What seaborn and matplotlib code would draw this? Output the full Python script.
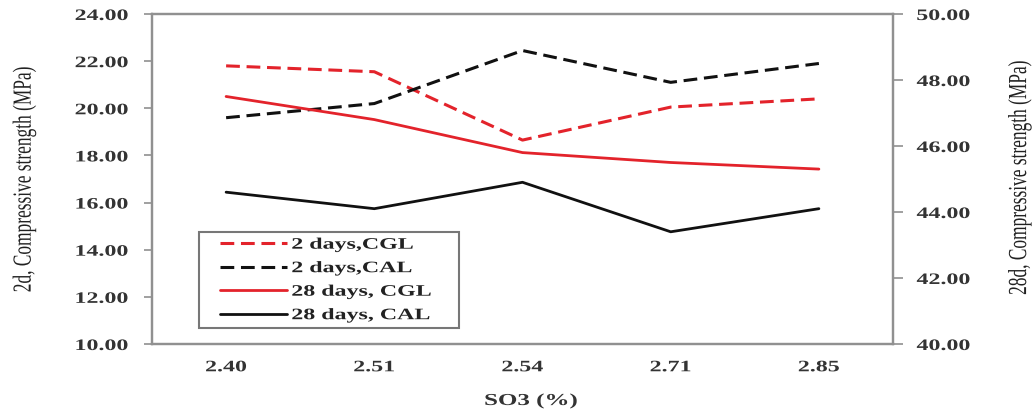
import matplotlib
matplotlib.use("Agg")
import matplotlib.pyplot as plt
from matplotlib import patheffects
from matplotlib.lines import Line2D
from matplotlib.legend_handler import HandlerLine2D
from matplotlib.transforms import Affine2D
import seaborn as sns

# SO3 content (categories on the x axis)
so3 = ["2.40", "2.51", "2.54", "2.71", "2.85"]

# 2-day strength, left axis (MPa)
cgl_2d = [21.8, 21.55, 18.65, 20.05, 20.4]
cal_2d = [19.6, 20.2, 22.45, 21.1, 21.9]

# 28-day strength, right axis (MPa)
cgl_28d = [47.5, 46.8, 45.8, 45.5, 45.3]
cal_28d = [44.6, 44.1, 44.9, 43.4, 44.1]

left_ticks = [10, 12, 14, 16, 18, 20, 22, 24]
right_ticks = [40, 42, 44, 46, 48, 50]


class Stretch(patheffects.AbstractPathEffect):
    """Widen text glyphs (the source figure was resized non-uniformly)."""

    def __init__(self, sx=1.0, sy=1.0, anchor="center"):
        super().__init__()
        self.sx, self.sy, self.anchor = sx, sy, anchor

    def draw_path(self, renderer, gc, tpath, affine, rgbFace=None):
        ext = tpath.get_extents()
        cx = {"left": ext.x0, "right": ext.x1}.get(self.anchor, (ext.x0 + ext.x1) / 2)
        cy = (ext.y0 + ext.y1) / 2
        pre = Affine2D().translate(-cx, -cy).scale(self.sx, self.sy).translate(cx, cy)
        renderer.draw_path(gc, tpath, pre + affine, rgbFace)


SX = 1.5
sns.set_style("white")
plt.rcParams["font.family"] = ["Liberation Serif", "DejaVu Serif"]

RED = "#e3232b"
BLACK = "#111111"
SPINE = "#909090"
TXT = "#333333"
dash = (0, (4.5, 2.2))

fig = plt.figure(figsize=(10.32, 4.14), dpi=100)
ax = fig.add_axes([0.1473, 0.1667, 0.7180, 0.7971])
ax2 = ax.twinx()

sns.lineplot(x=so3, y=cgl_2d, ax=ax, color=RED, linewidth=2.2, linestyle=dash, label="2 days,CGL")
sns.lineplot(x=so3, y=cal_2d, ax=ax, color=BLACK, linewidth=2.2, linestyle=dash, label="2 days,CAL")
sns.lineplot(x=so3, y=cgl_28d, ax=ax2, color=RED, linewidth=2.0, label="28 days, CGL")
sns.lineplot(x=so3, y=cal_28d, ax=ax2, color=BLACK, linewidth=2.0, label="28 days, CAL")

ax.set_xlim(-0.5, len(so3) - 0.5)
ax.set_ylim(10, 24)
ax2.set_ylim(40, 50)
ax.set_yticks(left_ticks)
ax.set_yticklabels([f"{v:.2f}" for v in left_ticks])
ax2.set_yticks(right_ticks)
ax2.set_yticklabels([f"{v:.2f}" for v in right_ticks])

for a in (ax, ax2):
    for s in a.spines.values():
        s.set_color(SPINE)
        s.set_linewidth(1.6)
        s.set_visible(True)
    a.tick_params(axis="x", length=0, labelsize=11.5, pad=11)

ax.tick_params(axis="y", length=6, width=1.2, color=SPINE, direction="out", labelsize=11.5, pad=11)
ax2.tick_params(axis="y", length=7, width=1.2, color=SPINE, direction="out", labelsize=11.5, pad=10)

for lab in ax.get_yticklabels():
    lab.set(fontweight="bold", color=TXT, path_effects=[Stretch(SX, 1, "right")])
for lab in ax2.get_yticklabels():
    lab.set(fontweight="bold", color=TXT, path_effects=[Stretch(SX, 1, "left")])
for lab in ax.get_xticklabels():
    lab.set(fontweight="bold", color=TXT, path_effects=[Stretch(SX, 1, "center")])

ax.set_xlabel("SO3 (%)", fontsize=12, fontweight="bold", color=TXT,
              path_effects=[Stretch(SX, 1, "center")])
ax.xaxis.set_label_coords(0.5115, -0.1727)
ax.xaxis.label.set_va("center")

ax.set_ylabel("2d, Compressive strength (MPa)", fontsize=12.5, color="#222222",
              path_effects=[Stretch(1, SX)])
ax.yaxis.set_label_coords(-0.172, 0.5)
ax.yaxis.label.set_va("center")
ax2.set_ylabel("28d, Compressive strength (MPa)", fontsize=12.5, color="#222222",
               path_effects=[Stretch(1, SX)])
ax2.yaxis.set_label_coords(1.1714, 0.505)
ax2.yaxis.label.set_va("center")

h1, l1 = ax.get_legend_handles_labels()
h2, l2 = ax2.get_legend_handles_labels()
if ax.get_legend() is not None:
    ax.get_legend().remove()
leg = ax2.legend(h1 + h2, l1 + l2, loc="lower left", mode="expand",
                 bbox_to_anchor=(0.0634, 0.0485, 0.351, 0.291),
                 borderaxespad=0, fancybox=False, frameon=True, handlelength=5.2,
                 handletextpad=0.3, labelspacing=0.47, borderpad=0.3,
                 handler_map={Line2D: HandlerLine2D(xpad=1.0)},
                 prop={"family": "Liberation Serif", "weight": "bold", "size": 11.5})
leg.get_frame().set_edgecolor("#555555")
leg.get_frame().set_linewidth(1.5)
for t in leg.get_texts():
    t.set(color="#222222", path_effects=[Stretch(SX, 1, "left")])

fig.savefig("out.png", dpi=100)
